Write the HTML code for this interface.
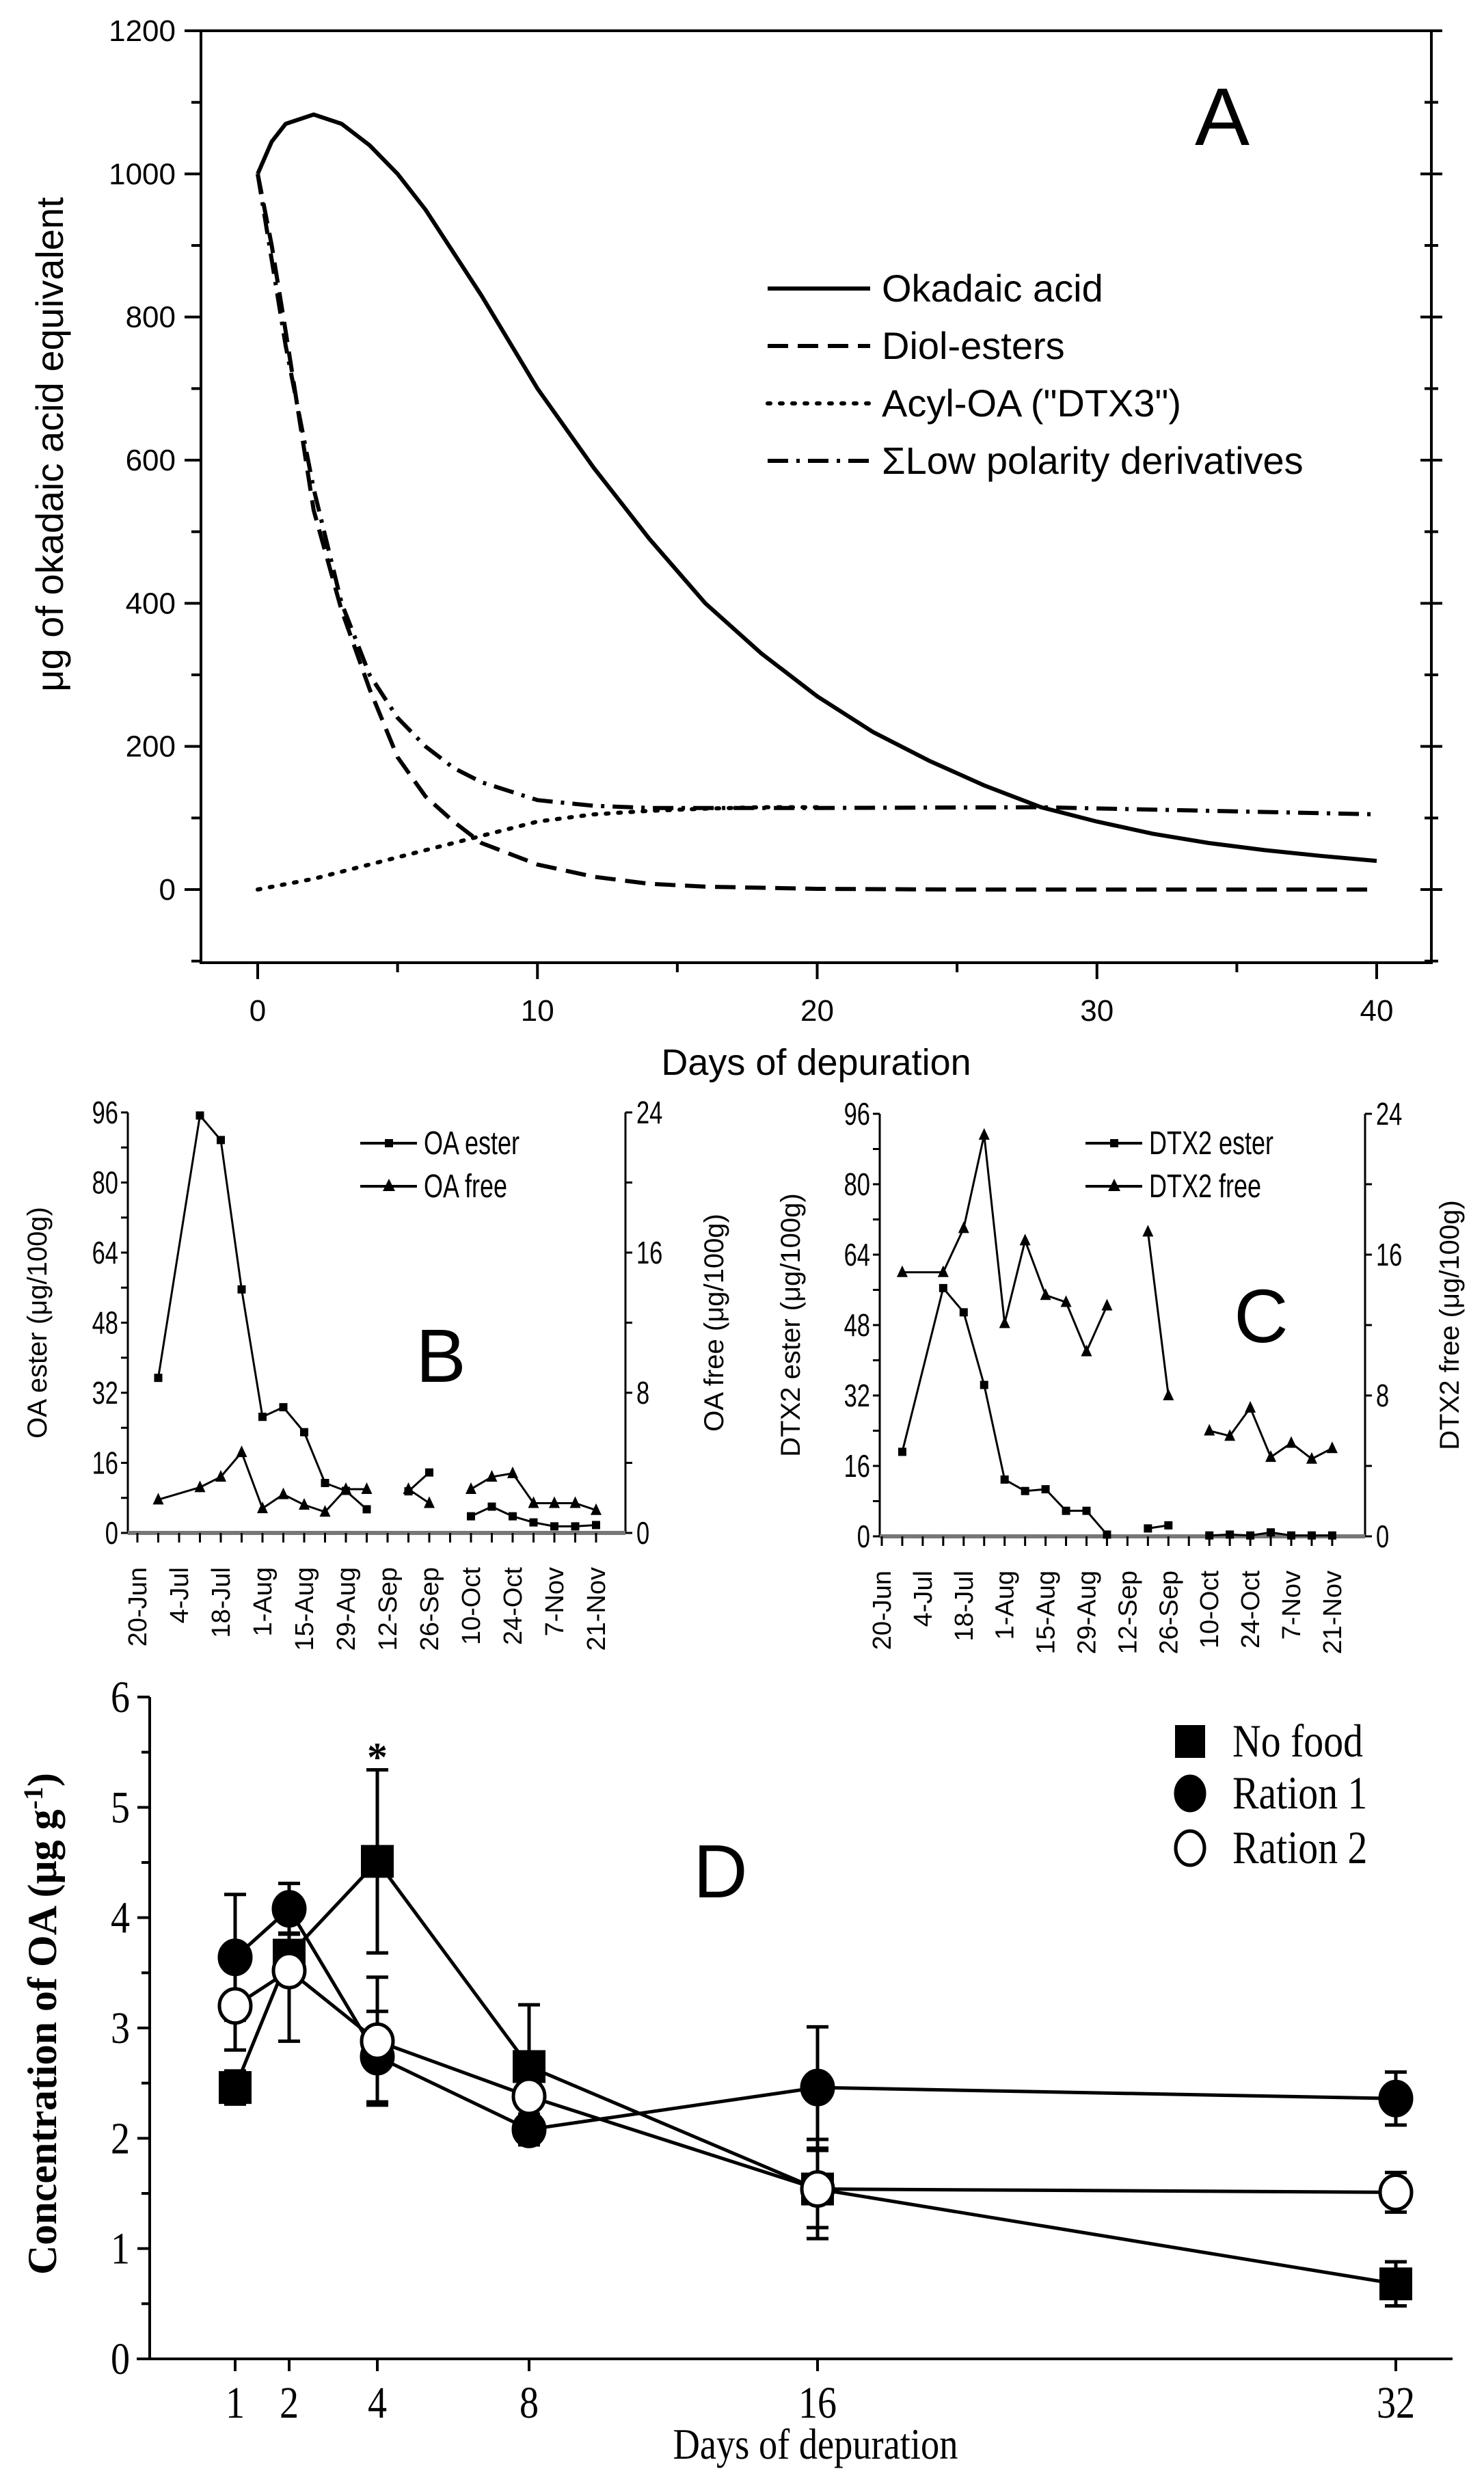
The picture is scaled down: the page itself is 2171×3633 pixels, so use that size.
<!DOCTYPE html>
<html><head><meta charset="utf-8"><style>
html,body{margin:0;padding:0;background:#fff}
svg{display:block}
.sans{font-family:"Liberation Sans","DejaVu Sans",sans-serif}
.serif{font-family:"Liberation Serif",serif}
</style></head><body>
<svg id="fig" width="2171" height="3633" viewBox="0 0 2171 3633" xmlns="http://www.w3.org/2000/svg"></svg>
<script>
// ---------- Panel A data ----------
const aOkaDays = [0,0.5,1,2,3,4,5,6,8,10,12,14,16,18,20,22,24,26,28,30,32,34,36,38,40];
const aOkaVals = [1000,1045,1070,1083,1070,1040,1000,950,830,700,590,490,400,330,270,220,180,145,115,95,78,65,55,47,40];
const aDiolDays = [0,0.5,1,2,3,4,5,6,7,8,10,12,14,16,20,25,30,40];
const aDiolVals = [1000,900,780,530,390,280,185,130,95,65,35,18,8,4,1,0,0,0];
const aAcylDays = [0,2,4,6,8,10,12,14,16,18,20];
const aAcylVals = [0,15,35,55,75,95,105,110,113,115,115];
const aLowDays = [0,0.5,1,2,3,4,5,6,7,8,10,12,14,20,28,34,40];
const aLowVals = [1000,880,760,560,400,300,240,200,170,150,125,117,114,114,115,110,105];
const aXTicks = [0,10,20,30,40];
const aYTicks = [0,200,400,600,800,1000,1200];
// ---------- Panel B data (weeks from 20-Jun) ----------
const dateLabels = ["20-Jun","4-Jul","18-Jul","1-Aug","15-Aug","29-Aug","12-Sep","26-Sep","10-Oct","24-Oct","7-Nov","21-Nov"];
const bEsterWeeks = [[1,3,4,5,6,7,8,9,10,11],[13,14],[16,17,18,19,20,21,22]];
const bEsterVals = [[35.4,95.3,89.7,55.6,26.5,28.7,23,11.4,9.6,5.4],[9.5,13.8],[3.8,6,3.8,2.4,1.5,1.5,1.8]];
const bFreeWeeks = [[1,3,4,5,6,7,8,9,10,11],[13,14],[16,17,18,19,20,21,22]];
const bFreeVals = [[1.9,2.6,3.2,4.6,1.4,2.2,1.6,1.2,2.5,2.5],[2.5,1.7],[2.5,3.2,3.4,1.7,1.7,1.7,1.3]];
// ---------- Panel C data ----------
const cEsterWeeks = [[1,3,4,5,6,7,8,9,10,11],[13,14],[16,17,18,19,20,21,22]];
const cEsterVals = [[19.2,56.4,50.9,34.4,12.9,10.3,10.7,5.8,5.8,0.4],[1.8,2.5],[0.2,0.4,0.2,0.9,0.2,0.2,0.2]];
const cFreeWeeks = [[1,3,4,5,6,7,8,9,10,11],[13,14],[16,17,18,19,20,21,22]];
const cFreeVals = [[15.0,15.0,17.5,22.8,12.1,16.8,13.7,13.3,10.5,13.1],[17.3,8.0],[6.0,5.7,7.3,4.5,5.3,4.4,5.0]];
const bcLeftTicks = [0,16,32,48,64,80,96];
const bcRightTicks = [0,8,16,24];
// ---------- Panel D data ----------
const dDays = [1,2,4,8,16,32];
const dNoFood = [2.46,3.66,4.51,2.65,1.54,0.68];
const dNoFoodErr = [0.15,0.2,0.83,0.56,0.35,0.2];
const dRation1 = [3.64,4.08,2.74,2.08,2.46,2.36];
const dRation1Err = [0.57,0.23,0.41,0.14,0.55,0.24];
const dRation2 = [3.2,3.52,2.88,2.38,1.54,1.51];
const dRation2Err = [0.4,0.64,0.58,0.1,0.45,0.18];
const dYTicks = [0,1,2,3,4,5,6];

const NS="http://www.w3.org/2000/svg";
const svg=document.getElementById('fig');
function mk(tag,attrs,parent,text){const e=document.createElementNS(NS,tag);for(const k in attrs)e.setAttribute(k,attrs[k]);if(text!==undefined)e.textContent=text;(parent||svg).appendChild(e);return e;}

// ===== Panel A =====
const gA=mk('g',{});


const axL=294,axR=2094,axT=45,axB=1408;
const ax=d=>377+(2014-377)*d/40;
const ay=v=>1301-(1301-45)*v/1200;
let frame=mk('rect',{x:axL,y:axT,width:axR-axL,height:axB-axT,fill:'none',stroke:'#000','stroke-width':4},gA);


for(let v=-100;v<=1200;v+=100){
  const big=v%200===0;
  mk('line',{x1:axL-(big?24:14),x2:axL,y1:ay(v),y2:ay(v),stroke:'#000','stroke-width':4},gA);
  mk('line',{x1:axR-(big?16:10),x2:axR+(big?16:10),y1:ay(v),y2:ay(v),stroke:'#000','stroke-width':4},gA);
}
aYTicks.forEach(v=>{const t=mk('text',{x:257,y:ay(v)+15,'text-anchor':'end','font-size':44,class:'sans'},gA,String(v));

});
for(let d=0;d<=40;d+=5){const big=d%10===0;mk('line',{x1:ax(d),x2:ax(d),y1:axB,y2:axB+(big?24:14),stroke:'#000','stroke-width':4},gA);}
aXTicks.forEach(d=>{const t=mk('text',{x:ax(d),y:1493,'text-anchor':'middle','font-size':44,class:'sans'},gA,String(d));

});
let t=mk('text',{x:1194,y:1572,'text-anchor':'middle','font-size':54,class:'sans'},gA,'Days of depuration');


t=mk('text',{x:0,y:0,'text-anchor':'middle','font-size':56,class:'sans',transform:'translate(92,650) rotate(-90)'},gA,'μg of okadaic acid equivalent');


t=mk('text',{x:1788,y:212,'text-anchor':'middle','font-size':120,class:'sans'},gA,'A');


function curve(days,vals,dash,name){
  const pts=days.map((d,i)=>ax(d).toFixed(1)+','+ay(vals[i]).toFixed(1)).join(' ');
  const p=mk('polyline',{points:pts,fill:'none',stroke:'#000','stroke-width':6,'stroke-dasharray':dash,'stroke-linejoin':'round','stroke-linecap':dash==='4,14'?'round':'butt'},gA);
  
  
}
curve(aOkaDays,aOkaVals,'none','okadaic-acid-line');
curve(aDiolDays,aDiolVals,'30,14','diol-esters-line');
curve(aAcylDays,aAcylVals,'4,14','acyl-oa-line');
curve(aLowDays,aLowVals,'30,12,5,12','low-polarity-line');
const legA=[['Okadaic acid','none'],['Diol-esters','30,14'],['Acyl-OA ("DTX3")','4,14'],['ΣLow polarity derivatives','30,12,5,12']];
legA.forEach((l,i)=>{const y=422+i*84;
  const ln=mk('line',{x1:1123,x2:1273,y1:y,y2:y,stroke:'#000','stroke-width':6,'stroke-dasharray':l[1],'stroke-linecap':l[1]==='4,14'?'round':'butt'},gA);
  
  
  const tx=mk('text',{x:1290,y:y+19,'font-size':56,class:'sans'},gA,l[0]);
  
  });

// ===== Panels B and C =====
function dualPanel(o){
  const g=mk('g',{});
  
  
  const L=o.L,R=o.R,T=o.T,B=o.B;
  const y=v=>B-(B-T)*v/96;
  const yr=v=>B-(B-T)*v/24;
  const x=w=>o.x0+o.pw*w;
  mk('line',{x1:L,x2:L,y1:T,y2:B,stroke:'#000','stroke-width':3},g);
  mk('line',{x1:R,x2:R,y1:T,y2:B,stroke:'#000','stroke-width':3},g);
  const base=mk('line',{x1:L,x2:R,y1:B,y2:B,stroke:'#777','stroke-width':6},g);
  
  
  for(let v=0;v<=96;v+=8){mk('line',{x1:L-10,x2:L,y1:y(v),y2:y(v),stroke:'#000','stroke-width':3},g);}
  for(let v=0;v<=24;v+=4){mk('line',{x1:R,x2:R+10,y1:yr(v),y2:yr(v),stroke:'#000','stroke-width':3},g);}
  bcLeftTicks.forEach(v=>{const t=mk('text',{x:(L-14)/0.75,y:y(v)+16,'text-anchor':'end','font-size':46,class:'sans',transform:'scale(0.75,1)'},g,String(v));
    
    });
  bcRightTicks.forEach(v=>{const t=mk('text',{x:(R+16)/0.75,y:yr(v)+16,'font-size':46,class:'sans',transform:'scale(0.75,1)'},g,String(v));
    
    });
  for(let w=0;w<=22;w++){mk('line',{x1:x(w),x2:x(w),y1:B,y2:B+14,stroke:'#000','stroke-width':3},g);}
  dateLabels.forEach((s,i)=>{const xx=x(i*2);const t=mk('text',{x:0,y:0,'text-anchor':'end','font-size':38,class:'sans',transform:`translate(${xx+13},${B+50}) rotate(-90)`},g,s);
    
    });
  let tt=mk('text',{x:0,y:0,'text-anchor':'middle','font-size':40,class:'sans',transform:`translate(${o.ltx},${(T+B)/2}) rotate(-90)`},g,o.lt);
  
  
  tt=mk('text',{x:0,y:0,'text-anchor':'middle','font-size':40,class:'sans',transform:`translate(${o.rtx},${(T+B)/2}) rotate(-90)`},g,o.rt);
  
  
  o.eW.forEach((ws,si)=>{
    const pts=ws.map((w,i)=>x(w)+','+y(o.eV[si][i])).join(' ');
    const p=mk('polyline',{points:pts,fill:'none',stroke:'#000','stroke-width':3},g);
    
    
    ws.forEach((w,i)=>{const m=mk('rect',{x:x(w)-6,y:y(o.eV[si][i])-6,width:12,height:12,fill:'#000'},g);
      
      });
  });
  o.fW.forEach((ws,si)=>{
    const pts=ws.map((w,i)=>x(w)+','+yr(o.fV[si][i])).join(' ');
    const p=mk('polyline',{points:pts,fill:'none',stroke:'#000','stroke-width':3},g);
    
    
    ws.forEach((w,i)=>{const cx=x(w),cy=yr(o.fV[si][i]);const m=mk('polygon',{points:`${cx},${cy-10} ${cx-8},${cy+7} ${cx+8},${cy+7}`,fill:'#000'},g);
      
      });
  });
  [[o.leg[0],'rect'],[o.leg[1],'tri']].forEach((l,i)=>{const yy=1672+i*63;
    const ln=mk('line',{x1:o.lgx,x2:o.lgx+83,y1:yy,y2:yy,stroke:'#000','stroke-width':4},g);
    
    
    const c=o.lgx+42;
    if(l[1]==='rect')mk('rect',{x:c-6,y:yy-6,width:12,height:12,fill:'#000'},g);
    else mk('polygon',{points:`${c},${yy-11} ${c-9},${yy+7} ${c+9},${yy+7}`,fill:'#000'},g);
    const tx=mk('text',{x:(o.lgx+93)/0.75,y:yy+16,'font-size':48,class:'sans',transform:'scale(0.75,1)'},g,l[0]);
    
    });
  tt=mk('text',{x:o.px,y:o.py+38,'text-anchor':'middle','font-size':110,class:'sans'},g,o.pl);
  
  
}
dualPanel({name:'panel-b',L:187,R:915,T:1627,B:2242,x0:201,pw:30.5,lt:'OA ester (μg/100g)',rt:'OA free (μg/100g)',ltx:68,rtx:1058,
  eW:bEsterWeeks,eV:bEsterVals,fW:bFreeWeeks,fV:bFreeVals,leg:['OA ester','OA free'],lgx:527,px:645,py:1983,pl:'B'});
dualPanel({name:'panel-c',L:1287,R:1997,T:1629,B:2247,x0:1290,pw:29.95,lt:'DTX2 ester (μg/100g)',rt:'DTX2 free (μg/100g)',ltx:1170,rtx:2134,
  eW:cEsterWeeks,eV:cEsterVals,fW:cFreeWeeks,fV:cFreeVals,leg:['DTX2 ester','DTX2 free'],lgx:1588,px:1845,py:1925,pl:'C'});

// ===== Panel D =====
const gD=mk('g',{});


const dTickDays=[1,2,4,8,16,32], dTickPx=[344,423,552,774,1196,2042];
function dx(d){for(let i=0;i<dTickDays.length-1;i++){if(d<=dTickDays[i+1]){const f=(d-dTickDays[i])/(dTickDays[i+1]-dTickDays[i]);return dTickPx[i]+f*(dTickPx[i+1]-dTickPx[i]);}}return dTickPx[dTickPx.length-1];}
const dy=v=>3450-(3450-2482)*v/6;
mk('line',{x1:219,x2:219,y1:2482,y2:3450,stroke:'#000','stroke-width':4},gD);
mk('line',{x1:200,x2:2125,y1:3450,y2:3450,stroke:'#000','stroke-width':4},gD);
for(let v=0;v<=6;v+=0.5){mk('line',{x1:219-(v%1===0?18:12),x2:219,y1:dy(v),y2:dy(v),stroke:'#000','stroke-width':4},gD);}
dYTicks.forEach(v=>{const t=mk('text',{x:190/0.85,y:dy(v)+22,'text-anchor':'end','font-size':66,class:'serif',transform:'scale(0.85,1)'},gD,String(v));
  
  });
dDays.forEach(d=>{mk('line',{x1:dx(d),x2:dx(d),y1:3450,y2:3468,stroke:'#000','stroke-width':4},gD);
  const t=mk('text',{x:dx(d)/0.85,y:3536,'text-anchor':'middle','font-size':66,class:'serif',transform:'scale(0.85,1)'},gD,String(d));
  
  });
t=mk('text',{x:1193/0.85,y:3596,'text-anchor':'middle','font-size':64,class:'serif',transform:'scale(0.85,1)'},gD,'Days of depuration');


t=mk('text',{x:0,y:0,'text-anchor':'middle','font-size':60,'font-weight':'bold',class:'serif',transform:'translate(82,2960) rotate(-90)'},gD);
t.innerHTML='Concentration of OA (μg g<tspan dy="-20" font-size="40">-1</tspan><tspan dy="20">)</tspan>';


function series(vals,errs,kind,name){
  const pts=dDays.map((d,i)=>dx(d)+','+dy(vals[i])).join(' ');
  const p=mk('polyline',{points:pts,fill:'none',stroke:'#000','stroke-width':5},gD);
  
  
  dDays.forEach((d,i)=>{const x=dx(d),y=dy(vals[i]),e=errs[i];
    const eb=mk('path',{d:`M${x},${dy(vals[i]+e)}V${dy(vals[i]-e)}M${x-16},${dy(vals[i]+e)}h32M${x-16},${dy(vals[i]-e)}h32`,stroke:'#000','stroke-width':5,fill:'none'},gD);
    
    
    let m;
    if(kind==='sq')m=mk('rect',{x:x-24,y:y-24,width:48,height:48,fill:'#000'},gD);
    else m=mk('ellipse',{cx:x,cy:y,rx:23,ry:25,fill:kind==='open'?'#fff':'#000',stroke:'#000','stroke-width':5},gD);
    
    });
}
series(dNoFood,dNoFoodErr,'sq','no-food');
series(dRation1,dRation1Err,'fill','ration-1');
series(dRation2,dRation2Err,'open','ration-2');
t=mk('text',{x:dx(4),y:2590,'text-anchor':'middle','font-size':60,'font-weight':'bold',class:'serif'},gD,'*');


[['No food','sq'],['Ration 1','fill'],['Ration 2','open']].forEach((l,i)=>{const y=[2547,2623,2703][i],x=1741;
  if(l[1]==='sq')mk('rect',{x:x-22,y:y-24,width:44,height:48,fill:'#000'},gD);
  else mk('ellipse',{cx:x,cy:y,rx:21,ry:25,fill:l[1]==='open'?'#fff':'#000',stroke:'#000','stroke-width':5},gD);
  const tx=mk('text',{x:1803/0.85,y:y+22,'font-size':68,class:'serif',transform:'scale(0.85,1)'},gD,l[0]);
  
  });
t=mk('text',{x:1054,y:2775,'text-anchor':'middle','font-size':110,class:'sans'},gD,'D');


</script>
</body></html>
